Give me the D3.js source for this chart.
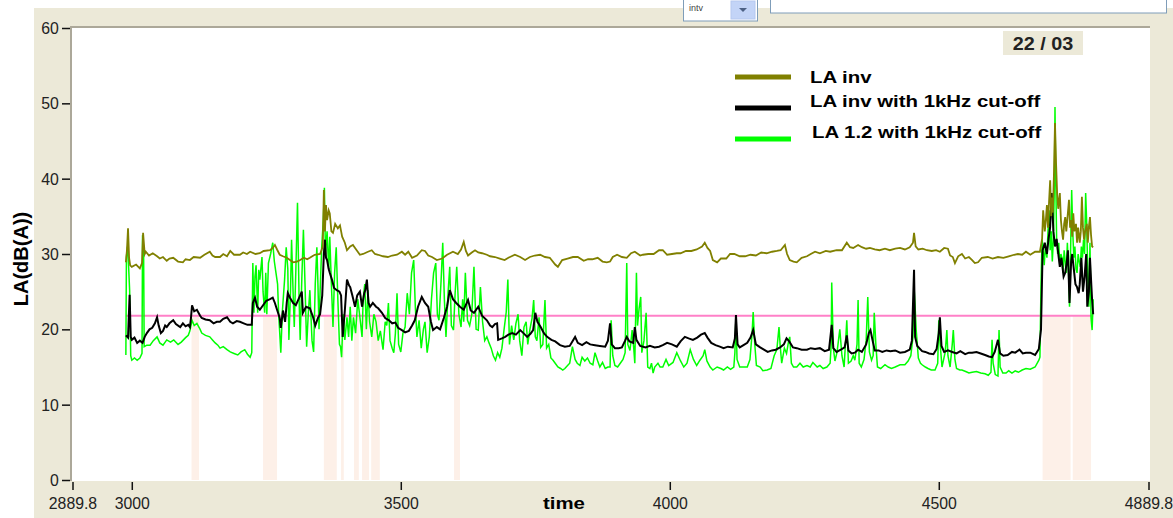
<!DOCTYPE html>
<html><head><meta charset="utf-8">
<script src="https://cdn.jsdelivr.net/npm/d3@7"></script>
<style>body{margin:0;background:#fff;} svg{display:block;}</style>
</head><body><svg id="c" width="1173" height="518"></svg>
<script>
// ---------- DATA ----------
const laInvTime = [2989,2991,2993,2995,2997,3000,3008,3015,3019,3021,3024,3026,3032,3039,3047,3052,3058,3065,3070,3077,3086,3095,3100,3108,3115,3127,3135,3145,3150,3155,3164,3170,3177,3183,3190,3201,3207,3214,3220,3230,3238,3245,3257,3262,3266,3270,3275,3281,3288,3294,3300,3307,3313,3320,3326,3331,3340,3350,3355,3357,3359,3361,3363,3366,3368,3371,3374,3378,3383,3387,3391,3396,3400,3406,3411,3418,3424,3430,3439,3446,3452,3458,3467,3476,3484,3493,3502,3508,3514,3521,3530,3539,3545,3551,3558,3567,3577,3586,3597,3606,3612,3617,3621,3625,3632,3638,3644,3651,3660,3666,3675,3684,3693,3700,3712,3722,3731,3740,3749,3759,3768,3777,3787,3792,3800,3810,3820,3829,3840,3848,3856,3866,3875,3883,3889,3894,3902,3911,3920,3928,3935,3945,3950,3960,3970,3980,3987,3995,4004,4013,4020,4030,4040,4050,4060,4065,4070,4075,4080,4088,4095,4105,4112,4120,4130,4140,4150,4160,4170,4180,4190,4199,4206,4214,4218,4223,4230,4236,4245,4255,4262,4270,4279,4290,4298,4310,4320,4329,4335,4341,4350,4357,4365,4372,4381,4390,4400,4409,4419,4428,4437,4446,4452,4454,4457,4462,4470,4478,4487,4495,4502,4510,4517,4521,4526,4530,4536,4543,4549,4556,4562,4567,4573,4580,4591,4600,4610,4620,4630,4640,4647,4655,4662,4670,4679,4688,4692,4694,4697,4699,4701,4703,4705,4707,4709,4710,4712,4714,4716,4718,4720,4722,4725,4727,4729,4731,4733,4735,4737,4740,4742,4744,4746,4748,4750,4752,4755,4757,4759,4762,4764,4766,4768,4770,4772,4775,4777,4779,4781,4783,4785,4787];
const laInvValue = [28.9,30.5,33.4,29.5,28.5,28.3,28.6,28.1,28.8,32.8,30.0,30.3,29.8,30.1,29.7,29.4,29.6,29.1,29.4,29.5,29.0,28.9,29.3,29.2,29.6,29.5,29.9,30.3,29.8,29.6,29.6,30.0,29.7,30.4,29.9,29.9,30.2,30.0,30.3,30.0,30.1,30.4,30.5,30.8,31.2,30.6,29.9,29.7,29.5,29.2,28.9,29.0,29.2,29.5,29.3,29.5,29.9,30.0,31.0,38.5,33.0,36.5,34.5,35.8,35.4,33.0,32.8,34.0,33.4,33.8,32.3,31.5,30.5,31.0,31.2,30.5,29.9,30.0,30.3,30.5,30.0,29.9,29.7,29.6,29.8,29.9,30.3,29.9,30.3,29.5,29.8,30.5,30.4,29.8,29.6,29.2,29.4,29.9,30.3,30.0,30.6,31.6,30.4,29.8,30.2,30.5,30.2,30.1,29.9,29.7,29.6,29.4,29.2,29.5,29.9,29.6,29.2,29.6,29.8,29.9,29.6,29.5,28.6,28.3,29.2,29.4,29.6,29.6,29.1,29.3,29.3,29.5,29.0,28.9,29.0,29.6,29.9,29.6,29.5,30.1,30.3,29.8,29.9,30.0,30.0,30.5,30.5,29.9,30.0,30.1,30.1,30.4,30.4,30.6,31.0,31.5,30.8,30.4,29.2,28.9,29.4,29.4,30.0,30.0,29.7,29.7,29.9,29.8,30.2,30.1,30.3,30.4,30.5,31.2,30.0,29.2,29.0,28.9,29.5,29.7,30.0,30.3,30.1,30.4,30.3,30.5,30.5,31.5,30.9,30.8,31.2,30.9,30.7,30.8,30.6,30.5,30.7,30.5,30.7,30.8,30.6,30.9,31.5,32.8,31.0,30.6,30.7,30.5,30.4,30.5,30.3,30.8,30.7,29.8,29.6,28.8,29.7,30.0,29.4,29.6,29.2,28.8,28.9,29.5,29.6,29.4,29.6,29.5,29.7,29.9,30.0,29.9,30.3,29.9,30.3,30.3,32.0,35.8,33.0,34.5,36.5,33.5,37.0,39.8,35.0,37.5,35.5,40.5,47.4,42.0,38.0,36.0,38.1,34.5,33.0,31.9,34.0,34.9,33.0,35.5,37.2,33.5,34.5,32.3,35.4,33.0,34.0,31.5,33.5,31.5,33.0,37.6,33.5,31.9,33.0,34.0,31.5,33.6,34.9,32.5,31.0,30.9];

const cutTime = [2989,2993,2996,2998,3000,3005,3010,3015,3020,3024,3028,3033,3038,3043,3047,3050,3054,3058,3062,3065,3070,3077,3082,3090,3095,3100,3105,3108,3110,3112,3116,3121,3127,3130,3137,3145,3152,3158,3164,3170,3177,3183,3188,3195,3201,3208,3215,3223,3225,3229,3233,3238,3244,3250,3257,3262,3266,3270,3275,3277,3281,3285,3288,3290,3294,3300,3305,3310,3316,3318,3324,3331,3337,3341,3346,3350,3354,3357,3359,3361,3363,3366,3368,3372,3376,3381,3386,3389,3392,3396,3400,3404,3406,3410,3415,3419,3424,3428,3432,3434,3437,3440,3443,3448,3454,3458,3465,3471,3478,3484,3490,3495,3502,3508,3515,3521,3526,3532,3539,3545,3551,3556,3560,3567,3573,3580,3586,3591,3597,3603,3610,3617,3625,3630,3636,3644,3651,3660,3666,3670,3675,3679,3681,3688,3694,3700,3707,3714,3722,3728,3735,3741,3746,3750,3754,3760,3766,3772,3780,3787,3796,3805,3814,3824,3829,3837,3845,3852,3861,3870,3880,3885,3889,3892,3898,3905,3911,3917,3920,3925,3932,3935,3938,3945,3955,3963,3972,3980,3987,3995,4004,4013,4020,4028,4035,4043,4051,4058,4065,4070,4077,4085,4093,4100,4108,4117,4121,4123,4126,4130,4137,4144,4150,4155,4160,4168,4175,4182,4190,4197,4205,4212,4217,4222,4229,4236,4245,4255,4262,4270,4279,4288,4296,4301,4304,4310,4318,4325,4329,4332,4338,4344,4350,4357,4365,4370,4373,4377,4381,4388,4395,4403,4410,4419,4428,4437,4446,4450,4454,4456,4460,4469,4475,4482,4490,4496,4500,4502,4505,4510,4517,4525,4533,4540,4549,4556,4562,4570,4578,4586,4593,4599,4604,4610,4614,4620,4628,4636,4642,4650,4656,4662,4670,4679,4686,4690,4693,4697,4701,4704,4707,4710,4713,4716,4719,4722,4725,4728,4732,4735,4738,4740,4743,4746,4748,4751,4754,4757,4760,4762,4765,4768,4771,4774,4776,4779,4781,4783,4785,4787];
const cutValue = [19.2,18.9,24.6,19.0,18.6,18.9,18.2,18.5,18.2,19.0,19.5,20.0,20.2,20.8,21.6,20.5,19.5,19.8,20.5,20.3,20.8,21.2,20.7,20.3,20.8,20.4,20.6,20.3,21.5,23.2,22.4,22.6,21.8,21.5,21.3,21.2,20.8,21.0,21.0,21.4,21.6,21.0,20.8,21.1,21.0,20.8,20.6,20.6,23.5,24.2,23.0,22.6,23.2,23.8,24.0,24.2,23.5,22.6,21.5,20.2,22.5,21.0,23.5,24.8,24.2,23.5,23.2,24.0,25.0,22.2,23.0,22.8,21.6,20.5,21.5,22.0,24.5,30.0,31.9,29.5,29.2,28.0,27.5,26.6,25.5,25.2,25.0,24.5,19.0,22.5,26.6,25.8,25.6,24.5,23.0,24.5,25.0,23.0,24.8,25.2,26.6,23.5,23.0,23.5,23.0,22.8,22.2,21.5,21.2,20.8,20.9,20.2,19.9,19.6,19.8,20.5,21.2,23.0,24.3,23.5,23.0,21.0,19.9,20.3,20.0,21.5,23.0,25.2,24.0,23.5,23.0,22.6,23.9,22.5,22.2,23.0,21.8,21.2,20.5,20.3,20.7,20.8,18.6,18.8,19.0,19.3,19.5,19.3,19.9,19.5,19.0,19.4,19.9,22.2,21.0,20.3,19.5,19.0,18.6,18.4,17.9,17.7,17.8,19.0,18.2,17.9,18.3,18.0,17.9,17.8,17.7,18.5,20.8,18.0,17.5,17.5,17.6,18.5,19.0,18.4,18.2,20.3,18.6,17.8,17.6,17.8,17.6,17.7,17.9,18.2,18.0,17.7,18.4,19.0,18.8,18.6,18.9,19.3,19.5,18.9,18.2,17.9,17.7,17.5,17.7,17.6,18.8,21.9,18.0,17.6,17.9,18.2,18.9,19.9,18.0,17.6,17.3,17.0,17.2,17.3,17.6,18.0,18.8,18.4,17.6,17.5,17.3,17.3,17.5,17.4,17.5,17.1,17.3,20.6,17.5,17.0,17.3,17.6,19.2,17.2,16.8,16.9,17.3,17.0,18.0,19.5,19.9,18.5,17.2,17.2,17.0,17.2,17.1,17.2,16.9,17.0,17.3,18.5,27.9,19.0,17.8,17.1,17.0,16.8,16.7,17.4,19.5,21.6,17.8,17.0,17.2,17.0,16.8,17.1,16.7,16.9,16.9,17.0,16.8,16.6,16.4,16.3,17.0,18.6,16.8,16.5,16.6,17.0,16.9,17.3,16.8,16.9,16.9,16.6,17.4,20.0,30.5,31.5,30.0,32.0,33.6,38.1,33.0,31.0,32.0,30.1,28.3,29.5,27.0,27.5,29.0,30.5,23.5,29.0,30.0,28.0,26.0,25.6,24.8,26.0,29.5,25.0,27.0,30.0,23.0,25.0,29.5,26.6,23.9,22.0];

const la12Time = [2989,2990,2992,2994,2996,2998,3000,3005,3010,3015,3019,3020,3022,3023,3028,3034,3040,3047,3052,3058,3065,3072,3078,3086,3092,3100,3105,3108,3112,3116,3121,3127,3130,3137,3145,3150,3155,3160,3164,3170,3177,3183,3190,3197,3203,3210,3215,3220,3223,3225,3227,3229,3231,3234,3236,3238,3242,3244,3247,3249,3251,3254,3258,3262,3265,3268,3271,3273,3275,3277,3280,3284,3287,3290,3292,3295,3297,3300,3302,3305,3308,3311,3313,3316,3319,3322,3325,3328,3331,3335,3338,3341,3344,3346,3348,3350,3353,3356,3358,3360,3363,3366,3368,3371,3374,3377,3380,3383,3386,3388,3390,3393,3396,3400,3403,3406,3409,3412,3416,3420,3424,3428,3430,3433,3436,3439,3442,3446,3450,3454,3458,3462,3467,3471,3474,3477,3480,3484,3487,3490,3493,3496,3500,3504,3508,3512,3516,3520,3524,3527,3530,3534,3538,3542,3545,3549,3553,3557,3561,3565,3568,3571,3575,3578,3581,3584,3588,3591,3594,3598,3601,3604,3608,3612,3615,3617,3620,3624,3628,3632,3636,3640,3644,3648,3652,3656,3660,3664,3668,3672,3676,3680,3684,3688,3692,3696,3699,3702,3706,3710,3714,3718,3721,3725,3729,3733,3736,3740,3744,3747,3750,3753,3757,3760,3764,3768,3771,3775,3779,3783,3787,3792,3797,3801,3805,3810,3814,3819,3824,3828,3833,3837,3842,3847,3852,3857,3861,3866,3870,3875,3880,3885,3889,3891,3894,3898,3903,3908,3913,3917,3920,3922,3926,3930,3933,3935,3938,3940,3943,3946,3948,3952,3956,3959,3963,3966,3969,3972,3978,3982,3987,3993,3998,4006,4013,4020,4026,4032,4038,4044,4050,4056,4062,4065,4069,4075,4080,4088,4095,4100,4107,4113,4119,4121,4123,4125,4130,4136,4144,4149,4153,4155,4158,4161,4168,4173,4181,4188,4194,4199,4203,4205,4208,4213,4217,4221,4223,4226,4230,4236,4242,4248,4255,4261,4266,4274,4279,4285,4292,4298,4300,4301,4304,4307,4311,4316,4320,4324,4329,4332,4337,4341,4344,4348,4350,4352,4356,4361,4365,4368,4371,4375,4378,4380,4383,4386,4392,4400,4406,4412,4419,4428,4437,4443,4448,4452,4454,4456,4458,4462,4466,4469,4475,4480,4486,4493,4498,4500,4502,4506,4512,4515,4517,4521,4525,4527,4530,4533,4539,4543,4550,4556,4562,4570,4578,4586,4592,4597,4599,4601,4605,4610,4612,4614,4619,4625,4630,4636,4642,4648,4655,4662,4670,4679,4686,4688,4690,4692,4694,4696,4698,4701,4703,4705,4707,4709,4711,4713,4715,4716,4717,4719,4721,4723,4725,4727,4729,4731,4733,4735,4737,4739,4741,4743,4745,4747,4749,4751,4753,4755,4757,4759,4761,4763,4765,4767,4769,4771,4773,4775,4777,4779,4781,4783,4785,4787];
const la12Value = [16.6,29.6,31.0,28.5,25.2,16.5,15.9,16.2,15.9,16.2,16.8,32.5,30.0,17.7,17.9,17.9,18.5,19.0,18.2,17.9,18.6,18.3,18.6,18.0,18.3,18.9,19.2,19.8,21.2,20.5,20.8,20.0,19.5,19.2,19.0,18.6,18.2,17.9,17.5,17.7,17.3,17.0,16.8,16.6,17.0,17.3,16.7,16.3,16.9,28.8,22.2,27.0,28.5,22.2,27.9,26.6,29.6,25.0,22.2,27.5,22.0,28.8,30.0,31.5,29.0,27.5,26.0,22.0,19.5,16.9,22.5,26.6,30.9,28.0,18.6,25.0,31.9,24.5,20.3,28.0,36.8,24.0,18.6,26.6,33.2,26.0,17.7,22.0,25.2,18.5,17.0,26.0,30.9,26.0,20.0,25.0,30.9,34.5,38.8,30.0,33.0,28.0,32.3,26.0,20.3,27.5,30.9,24.0,18.0,17.7,16.3,22.0,18.6,21.6,19.0,23.0,18.5,21.6,19.5,24.0,21.6,19.0,23.9,26.0,20.0,25.2,21.0,19.0,22.0,21.0,18.5,19.8,17.3,21.0,20.5,23.5,18.5,17.5,16.9,19.5,24.8,18.0,17.0,19.5,20.3,24.8,22.0,27.5,29.2,23.0,19.0,21.2,17.5,20.0,21.0,16.9,19.0,24.0,27.5,28.8,22.0,21.2,26.6,31.5,24.0,19.0,25.0,28.3,20.5,19.9,24.8,28.3,22.0,20.3,24.0,21.0,27.5,21.2,20.5,22.0,28.3,20.0,19.9,25.6,21.0,18.5,19.0,18.2,17.5,16.5,15.9,16.9,16.3,17.5,20.0,22.3,26.6,18.0,20.5,18.6,20.8,22.0,18.5,16.5,20.3,21.0,18.0,20.0,21.5,23.9,19.0,18.5,21.6,17.6,18.0,23.9,17.5,18.0,16.2,15.9,15.5,15.0,14.8,14.6,14.8,15.2,15.5,17.7,16.0,15.5,15.2,16.3,15.8,16.2,15.5,15.3,16.9,15.8,15.0,15.6,14.8,15.0,15.0,21.2,16.5,15.2,15.0,15.5,16.0,16.9,28.8,18.0,17.2,19.9,17.5,15.5,27.5,20.5,22.8,24.3,16.9,18.5,22.2,15.0,14.8,15.5,14.2,15.0,15.5,15.0,15.0,16.0,15.2,15.6,16.9,15.8,15.0,15.5,17.3,16.0,15.2,15.9,16.5,17.3,15.8,15.0,14.6,15.0,14.8,14.6,15.0,14.7,15.0,16.9,21.9,16.0,15.0,15.0,15.0,16.0,19.5,22.3,18.0,15.2,15.0,14.5,14.6,14.8,16.5,17.3,20.3,18.0,15.5,17.5,16.8,18.5,19.0,15.5,15.0,15.0,15.5,15.0,15.2,15.0,15.6,15.0,15.2,14.8,15.0,15.5,18.0,26.2,17.5,15.8,17.0,20.0,16.5,15.0,21.2,15.5,15.8,16.5,15.9,18.0,23.9,15.5,15.0,16.0,18.5,24.3,17.0,15.9,16.5,22.2,18.0,15.0,14.8,15.3,15.0,14.8,15.0,15.3,15.3,15.8,16.5,19.0,25.6,23.0,19.9,16.2,15.5,15.3,15.0,14.8,14.6,14.6,15.5,21.2,18.5,15.0,17.0,19.9,16.5,15.0,18.0,19.9,16.0,14.8,14.6,14.6,14.4,14.2,14.3,14.4,14.2,14.1,13.9,14.3,18.6,15.5,14.0,13.8,19.9,15.0,14.2,14.2,14.5,14.2,14.5,14.3,14.6,14.8,14.7,15.0,15.9,16.3,26.0,31.9,30.5,28.5,31.0,29.5,33.0,35.8,30.5,33.0,29.0,32.0,40.0,49.5,42.0,32.0,30.0,31.5,28.3,30.0,29.5,27.5,30.5,29.0,27.5,31.5,28.0,23.0,30.5,38.5,33.0,29.5,31.0,28.0,27.5,30.0,29.0,28.3,31.0,29.5,31.9,30.0,38.1,34.0,27.0,23.0,31.5,21.5,19.9,24.0];

const thresholdLevel = 21.8;
const thresholdSpan = [2989, 4787];
const shadeStart = [3111, 3244, 3357, 3389, 3413, 3428, 3445, 3599, 4693, 4749];
const shadeEnd   = [3125, 3270, 3381, 3394, 3422, 3441, 3461, 3610, 4745, 4783];

const xTickValues = [2889.8, 3000, 3500, 4000, 4500, 4889.8];
const yTickValues = [0, 10, 20, 30, 40, 50, 60];
const seriesNames = ["LA inv", "LA inv with 1kHz cut-off", "LA 1.2 with 1kHz cut-off"];
const seriesColors = ["#808000", "#000000", "#00ff00"];
const dateLabel = "22 / 03";
const xTitle = "time";
const yTitle = "LA(dB(A))";
const widgetLabel = "intv";

// ---------- DRAW ----------
const svg = d3.select("#c");
const beige = "#ece9d8";
const L = 72, R = 1150, T = 28, B = 481;
const x = d3.scaleLinear().domain([2889.8, 4889.8]).range([72.5, 1148.5]);
const y = d3.scaleLinear().domain([0, 60]).range([480, 28]);

svg.append("rect").attr("x",0).attr("y",0).attr("width",1173).attr("height",518).attr("fill","#fff");
svg.append("rect").attr("x",34).attr("y",8).attr("width",1139).attr("height",510).attr("fill",beige);

// top widgets (window chrome)
svg.append("rect").attr("x",683.5).attr("y",-2).attr("width",74).attr("height",23).attr("fill","#fff").attr("stroke","#7f9db9");
svg.append("text").attr("x",689).attr("y",11).attr("font-family","Liberation Sans").attr("font-size",9).attr("fill","#444").text(widgetLabel);
svg.append("rect").attr("x",731).attr("y",1).attr("width",24).attr("height",18).attr("fill","#c3d4f7").attr("stroke","#b5c8ef");
svg.append("path").attr("d","M739,8 L747,8 L743,12 Z").attr("fill","#4d6185");
svg.append("rect").attr("x",770.5).attr("y",-2).attr("width",396).attr("height",15).attr("fill","#fff").attr("stroke","#7f9db9");

// plot area
svg.append("rect").attr("x",L).attr("y",T).attr("width",R-L).attr("height",B-T).attr("fill","#fff");
svg.append("line").attr("x1",70).attr("x2",R).attr("y1",27).attr("y2",27).attr("stroke","#aca899").attr("stroke-width",2);
svg.append("line").attr("x1",71).attr("x2",71).attr("y1",26).attr("y2",B).attr("stroke","#aca899").attr("stroke-width",2);

const plot = svg.append("g");
plot.selectAll("rect.shade").data(shadeStart).join("rect").attr("class","shade")
  .attr("x", (d)=>x(d)).attr("width",(d,i)=>x(shadeEnd[i])-x(d))
  .attr("y", y(thresholdLevel)).attr("height", y(0)-y(thresholdLevel))
  .attr("fill","#fdf0e8");
plot.append("line").attr("x1",x(thresholdSpan[0])).attr("x2",x(thresholdSpan[1]))
  .attr("y1",y(thresholdLevel)).attr("y2",y(thresholdLevel)).attr("stroke","#ff80c8").attr("stroke-width",2);

const line = d3.line().x(d=>x(d[0])).y(d=>y(d[1]));
const zip = (t,v)=>t.map((d,i)=>[d,v[i]]);
plot.append("path").datum(zip(la12Time,la12Value)).attr("d",line).attr("fill","none").attr("stroke",seriesColors[2]).attr("stroke-width",1.5);
plot.append("path").datum(zip(cutTime,cutValue)).attr("d",line).attr("fill","none").attr("stroke",seriesColors[1]).attr("stroke-width",2);
plot.append("path").datum(zip(laInvTime,laInvValue)).attr("d",line).attr("fill","none").attr("stroke",seriesColors[0]).attr("stroke-width",1.8);

// axes
const yAxis = svg.append("g").attr("transform","translate(70,0)")
  .call(d3.axisLeft(y).tickValues(yTickValues).tickSize(8).tickPadding(4).tickFormat(d3.format("d")));
const xAxis = svg.append("g").attr("transform","translate(0,482)")
  .call(d3.axisBottom(x).tickValues(xTickValues).tickSize(8).tickPadding(7).tickFormat(d => Number.isInteger(d) ? String(d) : d.toFixed(1)));
[yAxis,xAxis].forEach(a=>{
  a.select(".domain").remove();
  a.selectAll(".tick line").attr("stroke","#111").attr("stroke-width",1.5);
  a.selectAll(".tick text").attr("font-family","Liberation Sans, Arial, sans-serif").attr("font-size",17).attr("fill","#222")
    .attr("transform","scale(0.93,1)");
});

// axis titles
svg.append("text").attr("x",564).attr("y",509).attr("text-anchor","middle")
  .attr("font-family","Liberation Sans, Arial, sans-serif").attr("font-weight","bold").attr("font-size",17)
  .attr("transform","translate(564,0) scale(1.2,1) translate(-564,0)").text(xTitle);
svg.append("text").attr("transform","translate(28,259) rotate(-90)").attr("text-anchor","middle")
  .attr("font-family","Liberation Sans, Arial, sans-serif").attr("font-weight","bold").attr("font-size",20).text(yTitle);

// date box
svg.append("rect").attr("x",1003).attr("y",31).attr("width",80).attr("height",24).attr("fill",beige);
svg.append("text").attr("x",1043).attr("y",50).attr("text-anchor","middle")
  .attr("font-family","Liberation Sans, Arial, sans-serif").attr("font-weight","bold").attr("font-size",18).attr("fill","#222")
  .attr("transform","translate(1043,0) scale(1.1,1) translate(-1043,0)").text(dateLabel);

// legend
const legY = [77,108,139], legTY = [83,107,138], legTX=[810,810,812];
const leg = svg.append("g");
[0,1,2].forEach((k,i)=>{
  leg.append("line").attr("x1",735).attr("x2",791).attr("y1",legY[i]).attr("y2",legY[i]).attr("stroke",seriesColors[k]).attr("stroke-width",5);
  leg.append("text").attr("x",0).attr("y",0)
    .attr("transform",`translate(${legTX[i]},${legTY[i]}) scale(1.2,1)`)
    .attr("font-family","Liberation Sans, Arial, sans-serif").attr("font-weight","bold").attr("font-size",17).attr("fill","#000")
    .text(seriesNames[k]);
});
</script></body></html>
